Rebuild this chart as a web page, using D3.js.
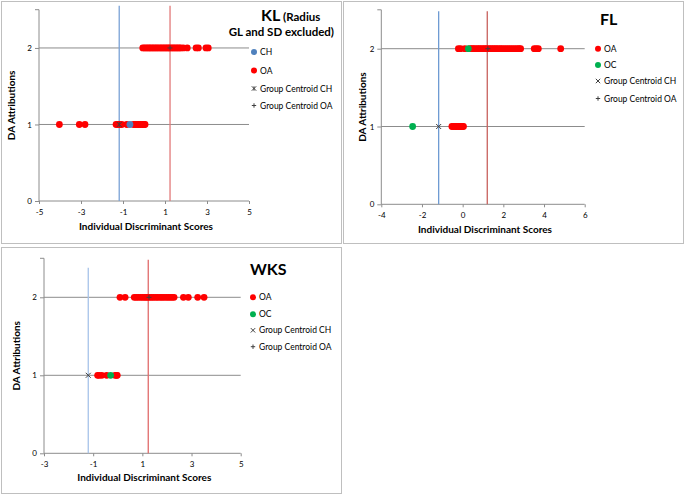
<!DOCTYPE html>
<html><head><meta charset="utf-8">
<script src="https://cdn.jsdelivr.net/npm/d3@7"></script>
<style>body{margin:0;background:#fff}svg{display:block}text{font-family:Lato,"Liberation Sans",sans-serif}</style>
</head><body><svg id="c" width="685" height="495"></svg>
<script>
// ---------- data ----------
const yTicks = [0, 1, 2];
const klXTicks = [-5, -3, -1, 1, 3, 5];
const flXTicks = [-4, -2, 0, 2, 4, 6];
const wksXTicks = [-3, -1, 1, 3, 5];

const klOA2 = [-0.06,0.02,0.1,0.18,0.25,0.32,0.4,0.47,0.55,0.62,0.7,0.78,0.85,0.93,1.0,1.08,1.15,1.22,1.3,1.38,1.45,1.53,1.6,1.68,1.75,1.87,2.06,2.48,2.59,2.95,3.06];
const klOA1 = [-4.03,-3.08,-2.81,-1.33,-1.25,-1.15,-1.06,-0.82,-0.5,-0.42,-0.33,-0.25,-0.16,-0.08,0.0,0.05];
const klCH1 = [-0.67];
const klCentroidCH = [-1.18];
const klCentroidOA = [1.24];
const klLineCH = [-1.18, 2.55];
const klLineOA = [1.24, 2.55];

const flOA2 = [-0.21,-0.1,0.11,0.36,0.44,0.52,0.6,0.7,0.78,0.86,0.95,1.04,1.12,1.2,1.3,1.38,1.47,1.55,1.64,1.72,1.82,1.9,2.0,2.1,2.2,2.3,2.4,2.5,2.6,2.7,2.78,2.85,3.52,3.62,3.72,4.82];
const flOA1 = [-0.53,-0.45,-0.37,-0.3,-0.22,-0.15,-0.08,-0.02,0.04];
const flOC2 = [0.28];
const flOC1 = [-2.46];
const flCentroidCH = [-1.18];
const flCentroidOA = [1.24];
const flLineCH = [-1.18, 2.48];
const flLineOA = [1.21, 2.48];

const wksOA2 = [0.09,0.3,0.67,0.75,0.83,0.92,1.0,1.08,1.15,1.22,1.3,1.38,1.46,1.55,1.63,1.72,1.8,1.88,1.97,2.05,2.13,2.21,2.29,2.67,2.87,3.25,3.51];
const wksOA1 = [-0.82,-0.76,-0.65,-0.45,-0.11,-0.05,-0.02];
const wksOC1 = [-0.29];
const wksCentroidCH = [-1.2];
const wksCentroidOA = [1.27];
const wksLineCH = [-1.2, 2.38];
const wksLineOA = [1.24, 2.48];

const colOA = "#ff0000", colOC = "#00b050", colCH = "#4f81bd";

// ---------- panels ----------
const panels = [
  {box:[1,1,340,242], px:[39,249], py:[201,9.7], xd:[-5,5], xt:klXTicks,
   pts:[[klOA2,2,colOA],[klOA1,1,colOA],[klCH1,1,colCH]],
   cCH:klCentroidCH, cOA:klCentroidOA, lCH:[klLineCH,"#7aa2d6"], lOA:[klLineOA,"#e27a7a"],
   legend:{x:254, y:[52,70.5,88.5,105.5], items:[["CH","dot",colCH],["OA","dot",colOA],["Group Centroid CH","star"],["Group Centroid OA","plus"]]},
   title:"KL", titleX:261, titleY:21, xlabY:230, ylabX:15},
  {box:[343,1,340,242], px:[381.3,584.7], py:[204.3,9.8], xd:[-4,6], xt:flXTicks,
   pts:[[flOA2,2,colOA],[flOA1,1,colOA],[flOC2,2,colOC],[flOC1,1,colOC]],
   cCH:flCentroidCH, cOA:flCentroidOA, lCH:[flLineCH,"#6e9bd3"], lOA:[flLineOA,"#c8605c"],
   legend:{x:598, y:[48.7,65,81,98.5], items:[["OA","dot",colOA],["OC","dot",colOC],["Group Centroid CH","cross"],["Group Centroid OA","plus"]]},
   title:"FL", titleX:600, titleY:25, xlabY:233, ylabX:365.5},
  {box:[1,247,340,246], px:[44,240.7], py:[453.3,258.3], xd:[-3,5], xt:wksXTicks,
   pts:[[wksOA2,2,colOA],[wksOA1,1,colOA],[wksOC1,1,colOC]],
   cCH:wksCentroidCH, cOA:wksCentroidOA, lCH:[wksLineCH,"#a6c3e9"], lOA:[wksLineOA,"#e06a6a"],
   legend:{x:253, y:[297.3,314.3,330.3,346.7], items:[["OA","dot",colOA],["OC","dot",colOC],["Group Centroid CH","cross"],["Group Centroid OA","plus"]]},
   title:"WKS", titleX:250, titleY:274.5, xlabY:481, ylabX:19.5}
];

const svg = d3.select("#c");
const axisCol = "#8c8c8c";

function marker(g, kind, x, y, s) {
  const p = d3.path();
  if (kind === "cross" || kind === "star") {
    p.moveTo(x-s,y-s); p.lineTo(x+s,y+s); p.moveTo(x-s,y+s); p.lineTo(x+s,y-s);
    if (kind === "star") { p.moveTo(x,y-s); p.lineTo(x,y+s); }
  } else if (kind === "plus") {
    p.moveTo(x-s,y); p.lineTo(x+s,y); p.moveTo(x,y-s); p.lineTo(x,y+s);
  }
  g.append("path").attr("d", p.toString()).attr("stroke","#404040").attr("stroke-width",1).attr("fill","none");
}

panels.forEach(P => {
  const g = svg.append("g");
  g.append("rect").attr("x",P.box[0]+0.5).attr("y",P.box[1]+0.5).attr("width",P.box[2]).attr("height",P.box[3])
    .attr("fill","#fff").attr("stroke","#bfbfbf").attr("stroke-width",1);
  const x = d3.scaleLinear().domain(P.xd).range(P.px);
  const y = d3.scaleLinear().domain([0,2.5]).range(P.py);

  // y axis
  const ya = g.append("g").attr("transform",`translate(${P.px[0]},0)`)
    .call(d3.axisLeft(y).tickValues(yTicks).tickSize(4).tickPadding(3).tickFormat(d => String(d)));
  ya.select(".domain").attr("stroke",axisCol).attr("d",`M-4,${y(2.5)}H0V${y(0)}`);
  ya.selectAll(".tick line").attr("stroke",axisCol);
  ya.selectAll(".tick text").attr("font-size",8).attr("fill","#000").style("font-family","Lato");
  // x axis
  const xa = g.append("g").attr("transform",`translate(0,${y(0)})`)
    .call(d3.axisBottom(x).tickValues(P.xt).tickSize(3).tickPadding(5).tickFormat(d => String(d)));
  xa.select(".domain").attr("stroke",axisCol).attr("d",`M${P.px[0]},0H${P.px[1]}`);
  xa.selectAll(".tick line").attr("stroke",axisCol);
  xa.selectAll(".tick text").attr("font-size",8).attr("fill","#000").style("font-family","Lato");
  // gridlines
  g.selectAll(".grid").data([1,2]).join("line")
    .attr("x1",P.px[0]).attr("x2",P.px[1]).attr("y1",d=>y(d)).attr("y2",d=>y(d))
    .attr("stroke",axisCol).attr("stroke-width",1);
  // centroid vertical lines
  [P.lCH, P.lOA].forEach(([L,c]) => {
    g.append("line").attr("x1",x(L[0])).attr("x2",x(L[0])).attr("y1",y(0)).attr("y2",y(L[1]))
      .attr("stroke",c).attr("stroke-width",1.3);
  });
  // points
  P.pts.forEach(([arr,yy,c]) => {
    g.selectAll(null).data(arr).join("circle")
      .attr("cx",d=>x(d)).attr("cy",y(yy)).attr("r",3.4).attr("fill",c);
  });
  // centroids
  P.cCH.forEach(v => marker(g, P.legend.items[2][1], x(v), y(1), 2.5));
  P.cOA.forEach(v => marker(g, "plus", x(v), y(2), 2.5));

  // axis titles
  g.append("text").attr("x",(P.px[0]+P.px[1])/2 + 2).attr("y",P.xlabY).attr("text-anchor","middle")
    .attr("font-size",10).attr("font-weight","bold").text("Individual Discriminant Scores");
  g.append("text").attr("transform",`translate(${P.ylabX},${(P.py[0]+P.py[1])/2}) rotate(-90)`)
    .attr("text-anchor","middle").attr("font-size",10).attr("font-weight","bold").text("DA Attributions");

  // legend
  P.legend.items.forEach((it,i) => {
    const ly = P.legend.y[i];
    if (it[1] === "dot") g.append("circle").attr("cx",P.legend.x).attr("cy",ly).attr("r",3).attr("fill",it[2]);
    else marker(g, it[1], P.legend.x, ly, 2.2);
    g.append("text").attr("x",P.legend.x+6).attr("y",ly+3).attr("font-size",8.5).attr("fill","#000").text(it[0]);
  });

  // title
  const t = g.append("text").attr("x",P.titleX).attr("y",P.titleY).attr("font-weight","bold").attr("fill","#000");
  t.append("tspan").attr("font-size",16).text(P.title);
  if (P.title === "KL") {
    t.append("tspan").attr("font-size",11.5).text(" (Radius");
    g.append("text").attr("x",334).attr("y",36).attr("text-anchor","end").attr("font-weight","bold")
      .attr("font-size",11.5).text("GL and SD excluded)");
  }
});
</script></body></html>
